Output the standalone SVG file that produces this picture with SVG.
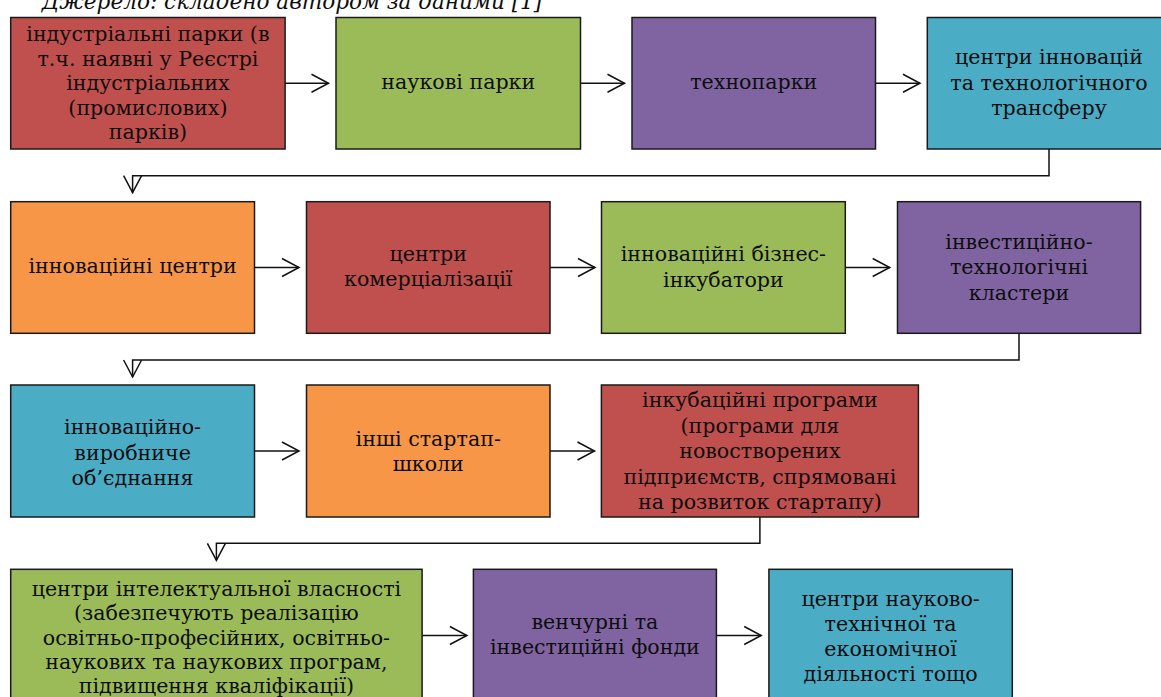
<svg xmlns="http://www.w3.org/2000/svg" width="1161" height="697" viewBox="0 0 1161 697">
<style>
.box{stroke:#1a1a1a;stroke-width:1.5}
.red{fill:#C0504D}.green{fill:#9BBB59}.purple{fill:#8064A2}.teal{fill:#4BACC6}.orange{fill:#F79646}
text{font-family:"DejaVu Serif","Liberation Serif",serif;font-size:20.6px;fill:#0d0d0d;text-anchor:middle}
.cap{font-style:italic;font-size:21.6px}
.con{fill:none;stroke:#111;stroke-width:1.5}
</style>
<defs>
<marker id="arr" markerWidth="20" markerHeight="20" refX="17" refY="9" orient="auto" markerUnits="userSpaceOnUse" overflow="visible">
<path d="M0,0 L17,9 L0,18" fill="none" stroke="#111" stroke-width="1.5"/>
</marker>
</defs>
<rect width="1161" height="697" fill="#fff"/>
<text class="cap" x="292" y="9">Джерело: складено автором за даними [1]</text>

<g id="connectors">
<line class="con" x1="285" y1="83.25" x2="328.5" y2="83.25" marker-end="url(#arr)"/>
<line class="con" x1="580.5" y1="83.25" x2="624.5" y2="83.25" marker-end="url(#arr)"/>
<line class="con" x1="875.5" y1="83.25" x2="920" y2="83.25" marker-end="url(#arr)"/>
<polyline class="con" points="1049,149 1049,175.7 132.6,175.7 132.6,192.7" marker-end="url(#arr)"/>
<line class="con" x1="254.5" y1="267.5" x2="299" y2="267.5" marker-end="url(#arr)"/>
<line class="con" x1="550" y1="267.5" x2="595" y2="267.5" marker-end="url(#arr)"/>
<line class="con" x1="845.3" y1="267.5" x2="889.7" y2="267.5" marker-end="url(#arr)"/>
<polyline class="con" points="1019,333.3 1019,360 132.6,360 132.6,377" marker-end="url(#arr)"/>
<line class="con" x1="254.5" y1="451" x2="299" y2="451" marker-end="url(#arr)"/>
<line class="con" x1="550" y1="451" x2="594.5" y2="451" marker-end="url(#arr)"/>
<polyline class="con" points="759.9,517 759.9,543.3 216.4,543.3 216.4,560.3" marker-end="url(#arr)"/>
<line class="con" x1="422.1" y1="635.5" x2="466.9" y2="635.5" marker-end="url(#arr)"/>
<line class="con" x1="716.4" y1="635.5" x2="761.2" y2="635.5" marker-end="url(#arr)"/>
</g>

<g id="n1">
<rect class="box red" x="10.7" y="17.5" width="274.4" height="131.5"/>
<text x="147.9" y="41">індустріальні парки (в</text>
<text x="147.9" y="65.5">т.ч. наявні у Реєстрі</text>
<text x="147.9" y="90">індустріальних</text>
<text x="147.9" y="114.5">(промислових)</text>
<text x="147.9" y="139">парків)</text>
</g>
<g id="n2">
<rect class="box green" x="336" y="17.5" width="244.5" height="131.5"/>
<text x="458.25" y="88.75">наукові парки</text>
</g>
<g id="n3">
<rect class="box purple" x="632" y="17.5" width="243.5" height="131.5"/>
<text x="753.75" y="88.75">технопарки</text>
</g>
<g id="n4">
<rect class="box teal" x="927.3" y="17.5" width="244" height="131.5"/>
<text x="1049" y="64">центри інновацій</text>
<text x="1049" y="89.5">та технологічного</text>
<text x="1049" y="115">трансферу</text>
</g>

<g id="n5">
<rect class="box orange" x="10.7" y="201.7" width="243.8" height="131.6"/>
<text x="132.6" y="273">інноваційні центри</text>
</g>
<g id="n6">
<rect class="box red" x="306.5" y="201.7" width="243.5" height="131.6"/>
<text x="428.25" y="260.5">центри</text>
<text x="428.25" y="286">комерціалізації</text>
</g>
<g id="n7">
<rect class="box green" x="601.5" y="201.7" width="243.8" height="131.6"/>
<text x="723.4" y="261">інноваційні бізнес-</text>
<text x="723.4" y="286.5">інкубатори</text>
</g>
<g id="n8">
<rect class="box purple" x="897.5" y="201.7" width="243.1" height="131.6"/>
<text x="1019" y="248.5">інвестиційно-</text>
<text x="1019" y="274">технологічні</text>
<text x="1019" y="299.5">кластери</text>
</g>

<g id="n9">
<rect class="box teal" x="10.7" y="385" width="243.8" height="132"/>
<text x="132.6" y="434">інноваційно-</text>
<text x="132.6" y="459.5">виробниче</text>
<text x="132.6" y="485">об’єднання</text>
</g>
<g id="n10">
<rect class="box orange" x="306.5" y="385" width="243.5" height="132"/>
<text x="428.25" y="445.5">інші стартап-</text>
<text x="428.25" y="470.5">школи</text>
</g>
<g id="n11">
<rect class="box red" x="601.4" y="385" width="317" height="132"/>
<text x="759.9" y="407">інкубаційні програми</text>
<text x="759.9" y="432.5">(програми для</text>
<text x="759.9" y="458">новостворених</text>
<text x="759.9" y="483.5">підприємств, спрямовані</text>
<text x="759.9" y="509">на розвиток стартапу)</text>
</g>

<g id="n12">
<rect class="box green" x="10.7" y="569.3" width="411.4" height="132.2"/>
<text x="216.4" y="596">центри інтелектуальної власності</text>
<text x="216.4" y="620.3">(забезпечують реалізацію</text>
<text x="216.4" y="644.5">освітньо-професійних, освітньо-</text>
<text x="216.4" y="668.8">наукових та наукових програм,</text>
<text x="216.4" y="693">підвищення кваліфікації)</text>
</g>
<g id="n13">
<rect class="box purple" x="473.4" y="569.3" width="243" height="132.2"/>
<text x="594.9" y="628.8">венчурні та</text>
<text x="594.9" y="653.8">інвестиційні фонди</text>
</g>
<g id="n14">
<rect class="box teal" x="768.9" y="569.3" width="243.4" height="132.2"/>
<text x="890.6" y="605.5">центри науково-</text>
<text x="890.6" y="630.5">технічної та</text>
<text x="890.6" y="655.5">економічної</text>
<text x="890.6" y="680.5">діяльності тощо</text>
</g>
</svg>
